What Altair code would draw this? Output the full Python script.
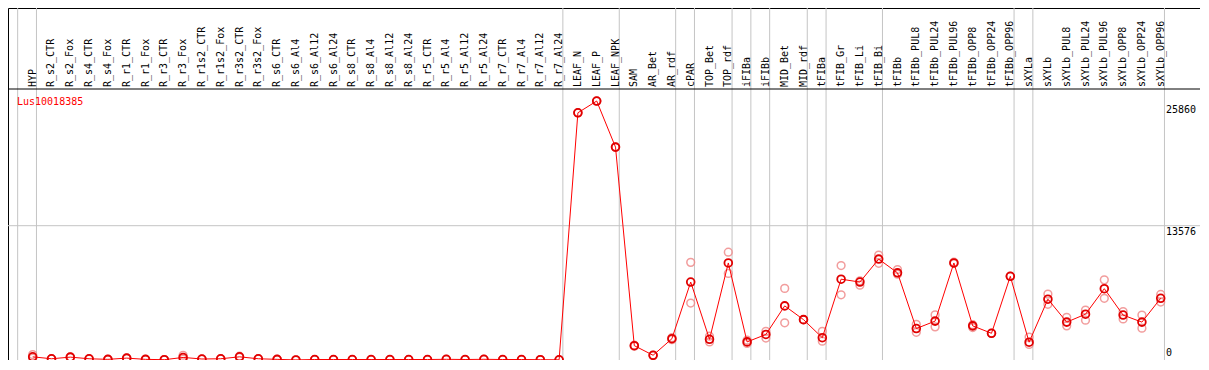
import altair as alt
import pandas as pd

categories = ["HYP", "R_s2_CTR", "R_s2_Fox", "R_s4_CTR", "R_s4_Fox", "R_r1_CTR", "R_r1_Fox",
              "R_r3_CTR", "R_r3_Fox", "R_r1s2_CTR", "R_r1s2_Fox", "R_r3s2_CTR", "R_r3s2_Fox",
              "R_s6_CTR", "R_s6_Al4", "R_s6_Al12", "R_s6_Al24", "R_s8_CTR", "R_s8_Al4", "R_s8_Al12",
              "R_s8_Al24", "R_r5_CTR", "R_r5_Al4", "R_r5_Al12", "R_r5_Al24", "R_r7_CTR", "R_r7_Al4",
              "R_r7_Al12", "R_r7_Al24", "LEAF_N", "LEAF_P", "LEAF_NPK", "SAM", "AR_Bet", "AR_rdf",
              "cPAR", "TOP_Bet", "TOP_rdf", "iFIBa", "iFIBb", "MID_Bet", "MID_rdf", "tFIBa",
              "tFIB_Gr", "tFIB_Li", "tFIB_Bi", "tFIBb", "tFIBb_PUL8", "tFIBb_PUL24", "tFIBb_PUL96",
              "tFIBb_OPP8", "tFIBb_OPP24", "tFIBb_OPP96", "sXYLa", "sXYLb", "sXYLb_PUL8",
              "sXYLb_PUL24", "sXYLb_PUL96", "sXYLb_OPP8", "sXYLb_OPP24", "sXYLb_OPP96"]

mean_values = [320, 125, 290, 125, 65, 190, 65, 30, 260, 100, 125, 320, 125,
               65, 10, 50, 50, 50, 50, 50, 50, 50, 70, 50, 70, 50, 50, 30, 20,
               24990, 26180, 21520, 1450, 480, 2150, 7880, 2090, 9810, 1830, 2580,
               5470, 4080, 2250, 8170, 7880, 10200, 8810, 3180, 3930, 9810, 3450,
               2700, 8460, 1800, 6150, 3830, 4630, 7210, 4540, 3830, 6240]

rep_a = [550, 125, 290, 125, 65, 190, 65, 30, 480, 100, 125, 380, 125,
         65, 10, 50, 50, 50, 50, 50, 50, 50, 70, 50, 70, 50, 50, 30, 20,
         24990, 26180, 21520, 1500, 480, 2250, 9870, 2410, 10900, 2000, 2900,
         7240, 4080, 2900, 9550, 7560, 10610, 9140, 3600, 4560, 9890, 3570,
         2700, 8460, 2320, 6660, 4310, 5050, 8100, 4890, 4540, 6630]

rep_b = [200, 125, 290, 125, 65, 190, 65, 30, 100, 100, 125, 260, 125,
         65, 10, 50, 50, 50, 50, 50, 50, 50, 70, 50, 70, 50, 50, 30, 20,
         24990, 26180, 21520, 1400, 480, 2050, 5760, 1830, 8750, 1670, 2220,
         3760, 4080, 1900, 6590, 8010, 9780, 8680, 2800, 3350, 9750, 3280,
         2700, 8460, 1570, 5630, 3450, 4020, 6240, 4150, 3210, 5860]

group_ends = [-1, 0, 28, 31, 34, 35, 37, 38, 39, 41, 42, 45, 52, 53, 60]

axis_values = [25860, 13576]
gene_name = "Lus10018385"

W, H = 1192, 352
SEP = 81
FONT = "DejaVu Sans Mono"

x_scale = alt.Scale(domain=[-1.3138, 62.09], nice=False, zero=False)
y_scale = alt.Scale(domain=[0, 27395], range=[H, SEP], nice=False, zero=False)

df = pd.DataFrame({"idx": list(range(len(categories))), "cat": categories, "mean": mean_values})
reps = pd.DataFrame({
    "idx": list(range(len(categories))) * 2,
    "val": rep_a + rep_b,
})
grid_df = pd.DataFrame({"g": [g + 0.2 for g in group_ends]})
axis_df = pd.DataFrame({"v": axis_values, "lab": [str(v) for v in axis_values]})

X = alt.X("idx:Q", scale=x_scale, axis=None)

vgrid = alt.Chart(grid_df).mark_rule(color="#c4c4c4", strokeWidth=1).encode(
    x=alt.X("g:Q", scale=x_scale, axis=None), y=alt.value(0), y2=alt.value(H))

hgrid = alt.Chart(pd.DataFrame({"v": [13576]})).mark_rule(color="#c4c4c4", strokeWidth=1).encode(
    y=alt.Y("v:Q", scale=y_scale, axis=None), x=alt.value(0), x2=alt.value(W))

sep = alt.Chart(pd.DataFrame({"a": [0]})).mark_rule(color="black", strokeWidth=1).encode(
    y=alt.value(SEP), x=alt.value(0), x2=alt.value(W))

labels = alt.Chart(df).mark_text(angle=270, align="left", baseline="middle",
                                 font=FONT, fontSize=10, color="black").encode(
    x=X, y=alt.value(SEP - 2), text="cat:N")

rep_pts = alt.Chart(reps).mark_point(shape="circle", filled=False, size=60, strokeWidth=1.5,
                                     color="#f08c8c", opacity=0.85, clip=True).encode(
    x=X, y=alt.Y("val:Q", scale=y_scale, axis=None))

line = alt.Chart(df).mark_line(color="#ff0000", strokeWidth=1, clip=True).encode(
    x=X, y=alt.Y("mean:Q", scale=y_scale, axis=None))

mean_pts = alt.Chart(df).mark_point(shape="circle", filled=False, size=60, strokeWidth=1.8,
                                    color="#e00000", opacity=1, clip=True).encode(
    x=X, y=alt.Y("mean:Q", scale=y_scale, axis=None))

ylabels = alt.Chart(axis_df).mark_text(align="left", baseline="top", font=FONT,
                                       fontSize=10, color="black", dy=1).encode(
    y=alt.Y("v:Q", scale=y_scale, axis=None), x=alt.value(1158), text="lab:N")

zero_label = alt.Chart(pd.DataFrame({"v": [0], "lab": ["0"]})).mark_text(
    align="left", baseline="bottom", font=FONT, fontSize=10, color="black", dy=-2).encode(
    y=alt.Y("v:Q", scale=y_scale, axis=None), x=alt.value(1158), text="lab:N")

title = alt.Chart(pd.DataFrame({"t": [gene_name]})).mark_text(
    align="left", baseline="top", font=FONT, fontSize=10, color="#ff0000").encode(
    x=alt.value(9), y=alt.value(SEP + 8), text="t:N")

chart = alt.layer(vgrid, hgrid, sep, labels, rep_pts, line, mean_pts, ylabels, zero_label, title).properties(
    width=W, height=H, padding=0,
    autosize=alt.AutoSizeParams(type="none"),
).configure_view(stroke="black", strokeWidth=1)

chart.save("out.html", embed_options={"renderer": "svg", "actions": False})
